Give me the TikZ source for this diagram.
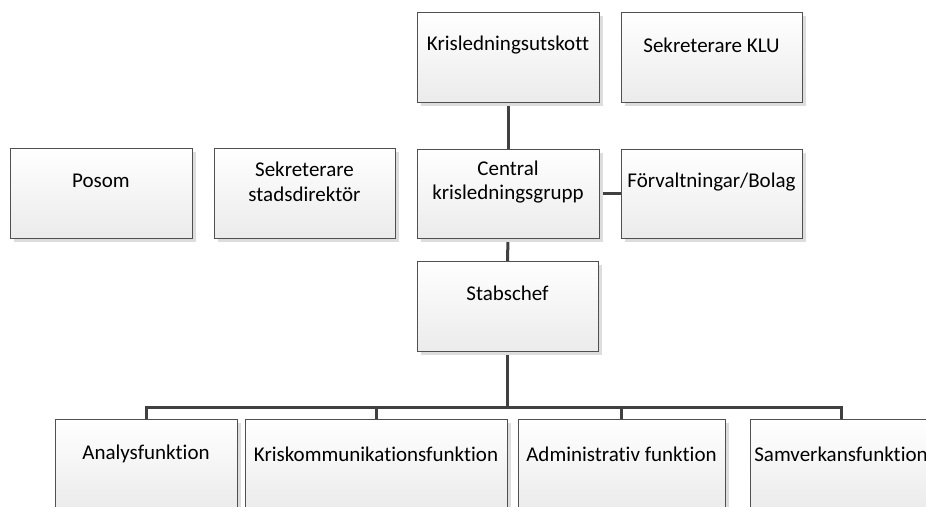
\documentclass[tikz,border=0pt]{standalone}
\usepackage{fontspec}
\setmainfont{Carlito}[Ligatures=NoCommon]
\usetikzlibrary{shadows}
\pgfdeclarelayer{background}
\pgfsetlayers{background,main}
\definecolor{edge}{HTML}{505050}
\definecolor{conn}{HTML}{404040}
\definecolor{shade}{HTML}{EBEBEB}
\definecolor{shad}{HTML}{DDDDDD}
\definecolor{txtc}{HTML}{000000}
\tikzset{
  x=1pt, y=-1pt,
  box/.style={draw=edge, line width=0.8pt, rectangle, anchor=north west,
    top color=white, bottom color=shade, minimum height=90pt,
    inner sep=0pt, outer sep=0pt,
    drop shadow={shadow xshift=3.5pt, shadow yshift=-3.5pt, fill=shad, opacity=1}},
  lbl/.style={font=\fontsize{21}{24.5}\selectfont, text=txtc, align=center, inner sep=0pt, anchor=center},
  link/.style={draw=conn, line width=3pt}
}
\begin{document}
\begin{tikzpicture}
\useasboundingbox (0,0) rectangle (926,506);
% top row
\node[box, minimum width=182pt] (kru) at (417,12) {};
\node[lbl] (kruT) at ([yshift=-33pt]kru.north) {Krisledningsutskott};
\node[box, minimum width=181pt] (klu) at (621,12) {};
\node[lbl] (kluT) at ([yshift=-33pt]klu.north) {Sekreterare KLU};
% middle row
\node[box, minimum width=182pt] (pos) at (10,148) {};
\node[lbl] (posT) at ([yshift=-33pt]pos.north) {Posom};
\node[box, minimum width=181pt] (ssd) at (214,148) {};
\node[lbl] (ssdT) at ([yshift=-34pt]ssd.north) {Sekreterare\\stadsdirektör};
\node[box, minimum width=182pt, minimum height=89pt] (ckg) at (417,149) {};
\node[lbl] (ckgT) at ([yshift=-33pt]ckg.north) {Central\\krisledningsgrupp};
\node[box, minimum width=181pt, minimum height=89pt] (fb) at (621,149) {};
\node[lbl] (fbT) at ([yshift=-33pt]fb.north) {Förvaltningar/Bolag};
% stabschef
\node[box, minimum width=181pt] (stab) at (417,261) {};
\node[lbl] (stabT) at ([yshift=-32pt]stab.north) {Stabschef};
% bottom row
\node[box, minimum width=182pt] (an) at (55,419) {};
\node[lbl] (anT) at ([yshift=-35pt]an.north) {Analysfunktion};
\node[box, minimum width=262pt] (kk) at (245,419) {};
\node[lbl] (kkT) at ([yshift=-35pt]kk.north) {Kriskommunikationsfunktion};
\node[box, minimum width=207pt] (adm) at (518,419) {};
\node[lbl] (admT) at ([yshift=-35pt]adm.north) {Administrativ funktion};
\node[box, minimum width=182pt] (sv) at (750,419) {};
\node[lbl] (svT) at ([yshift=-35pt]sv.north) {Samverkansfunktion};
% connectors
\coordinate (bus) at ([yshift=-56pt]stab.south);
\begin{pgfonlayer}{background}
\draw[link] (kru.south) -- (ckg.north);
\draw[link] (ckg.east) -- (fb.west);
\draw[link] (ckg.south) -- (stab.north);
\draw[link] (stab.south) -- (bus);
\draw[link] (an.north) |- (bus);
\draw[link] (kk.north) |- (bus);
\draw[link] (adm.north) |- (bus);
\draw[link] (sv.north) |- (bus);
\end{pgfonlayer}
\end{tikzpicture}
\end{document}
